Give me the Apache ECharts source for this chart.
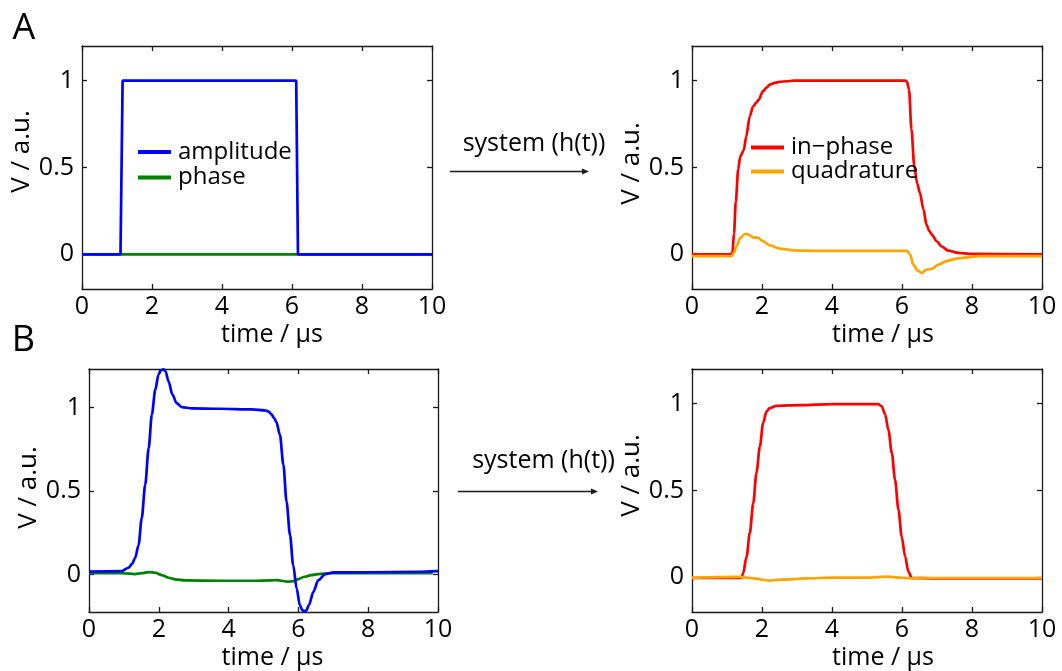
<!DOCTYPE html>
<html>
<head>
<meta charset="utf-8">
<script src="https://cdn.jsdelivr.net/npm/echarts@6/dist/echarts.min.js"></script>
<style>
  html, body { margin: 0; padding: 0; background: #fff; }
  #chart { width: 1062px; height: 671px; }
</style>
</head>
<body>
<div id="chart"></div>
<script>
// ---- Panel A, left: ideal rectangular drive pulse ----
const ampA_t   = [0, 1.10, 1.16, 6.12, 6.17, 10];
const ampA_v   = [0, 0, 1, 1, 0, 0];
const phaseA_t = [0, 10];
const phaseA_v = [0, 0];

// ---- Panel A, right: system response to the rectangular pulse ----
const inA_t = [0, 1.12, 1.155, 1.20, 1.25, 1.32, 1.38, 1.48, 1.55, 1.65, 1.74, 1.84, 1.90, 2.03, 2.13, 2.22, 2.35, 2.51, 2.70, 2.90, 3.10,
               6.10, 6.14, 6.20, 6.27, 6.35, 6.43, 6.51, 6.61, 6.70, 6.78, 6.85, 6.99, 7.13, 7.32, 7.61, 7.99, 10];
const inA_v = [0, 0, 0.01, 0.12, 0.30, 0.49, 0.565, 0.60, 0.68, 0.795, 0.85, 0.875, 0.89, 0.94, 0.96, 0.977, 0.987, 0.994, 0.997, 1.0, 1.0,
               1.0, 0.995, 0.95, 0.72, 0.51, 0.41, 0.355, 0.26, 0.17, 0.135, 0.113, 0.075, 0.046, 0.021, 0.008, 0.002, 0];
const quA_t = [0, 1.13, 1.20, 1.27, 1.38, 1.51, 1.60, 1.74, 1.89, 2.03, 2.22, 2.51, 2.89, 3.66, 6.14, 6.23, 6.32, 6.45, 6.56, 6.70, 6.85, 7.04, 7.32, 7.61, 7.99, 8.18, 10];
const quA_v = [-0.011, -0.011, 0.01, 0.046, 0.094, 0.117, 0.115, 0.098, 0.094, 0.075, 0.052, 0.033, 0.023, 0.02, 0.02, 0, -0.059, -0.094, -0.107, -0.088, -0.084, -0.059, -0.036, -0.023, -0.015, -0.011, -0.011];

// ---- Panel B, left: pre-shaped drive pulse ----
const ampB_t = [0, 0.94, 1.13, 1.23, 1.32, 1.42, 1.51, 1.61, 1.71, 1.80, 1.90, 1.99, 2.06, 2.13, 2.19, 2.28, 2.39, 2.51, 2.66, 2.95, 3.71, 4.66, 5.04,
                5.15, 5.23, 5.31, 5.37, 5.47, 5.57, 5.66, 5.76, 5.85, 5.95, 6.04, 6.11, 6.17, 6.23, 6.30, 6.43, 6.57, 6.77, 7.0, 8.0, 9.43, 10];
const ampB_v = [0.017, 0.02, 0.04, 0.062, 0.097, 0.176, 0.336, 0.536, 0.756, 0.956, 1.106, 1.196, 1.222, 1.228, 1.218, 1.156, 1.076, 1.026, 1.002, 0.994, 0.992, 0.988, 0.982,
                0.975, 0.958, 0.935, 0.912, 0.836, 0.656, 0.436, 0.236, 0.056, -0.084, -0.184, -0.214, -0.222, -0.215, -0.184, -0.104, -0.034, 0.002, 0.012, 0.013, 0.016, 0.02];
const phaseB_t = [0, 0.94, 1.32, 1.51, 1.71, 1.90, 2.09, 2.28, 2.47, 2.76, 3.71, 4.66, 5.23, 5.37, 5.52, 5.71, 5.85, 6.0, 6.18, 6.37, 6.57, 6.95, 9.85];
const phaseB_v = [0.007, 0.007, 0.002, 0.007, 0.014, 0.01, -0.004, -0.02, -0.03, -0.036, -0.038, -0.038, -0.036, -0.034, -0.038, -0.044, -0.040, -0.028, -0.014, -0.004, 0.002, 0.007, 0.007];

// ---- Panel B, right: system response to the pre-shaped pulse ----
const inB_t = [0, 1.41, 1.46, 1.56, 1.65, 1.75, 1.84, 1.94, 2.03, 2.13, 2.22, 2.41, 3.08, 4.04, 4.99, 5.32, 5.42, 5.52, 5.61, 5.71, 5.80, 5.90, 5.99, 6.09, 6.18, 6.28, 6.9, 10];
const inB_v = [-0.004, -0.004, 0.023, 0.119, 0.254, 0.427, 0.60, 0.754, 0.888, 0.956, 0.975, 0.988, 0.992, 0.998, 0.998, 0.998, 0.985, 0.937, 0.85, 0.715, 0.562, 0.388, 0.235, 0.119, 0.033, -0.004, -0.006, -0.006];
const quB_t = [0, 1.36, 1.56, 1.84, 2.03, 2.22, 2.41, 2.70, 3.27, 4.04, 4.99, 5.56, 5.94, 6.28, 6.9, 10];
const quB_v = [-0.002, 0.002, -0.002, -0.008, -0.015, -0.019, -0.015, -0.012, -0.006, -0.002, -0.002, 0.004, -0.002, -0.006, -0.004, -0.004];

// ---- Axis ticks and text ----
const yTicks = [0, 0.5, 1];
const xTickStep = 2;
const xLabel = 'time / \u03bcs';
const yLabel = 'V / a.u.';
const legendA = ['amplitude', 'phase'];
const legendB = ['in\u2212phase', 'quadrature'];
const panelLetters = ['A', 'B'];
const arrowText = 'system (h(t))';

const FONT = "'Open Sans', 'Noto Sans', sans-serif";
const AX = '#1a1a1a';

const pairs = (t, v) => t.map((x, i) => [x, v[i]]);

const grids = [
  { left: 82,  top: 46,  width: 350, height: 243 },
  { left: 692, top: 46,  width: 350, height: 243 },
  { left: 89,  top: 369, width: 349, height: 243 },
  { left: 692, top: 369, width: 350, height: 243 }
];
const yRanges = [[-0.2, 1.2], [-0.2, 1.2], [-0.225, 1.23], [-0.2, 1.2]];
const xNameShift = [30, 32, 18, 32];
const yNameShift = [32, 8, 6, 30];

const xAxes = [], yAxes = [];
grids.forEach((g, i) => {
  const line = { show: true, onZero: false, lineStyle: { color: AX, width: 1.3 } };
  const tick = { show: true, inside: true, length: 5, lineStyle: { color: AX, width: 1.3 } };
  xAxes.push({
    gridIndex: i, type: 'value', min: 0, max: 10, interval: xTickStep, position: 'bottom',
    axisLine: line, axisTick: tick, splitLine: { show: false },
    axisLabel: { margin: 5, fontSize: 25, fontFamily: FONT, color: '#000', showMaxLabel: true, showMinLabel: true },
    name: xLabel, nameLocation: 'middle', nameGap: 33,
    nameTextStyle: { fontSize: 25, fontFamily: FONT, color: '#000', padding: [0, 0, 0, xNameShift[i]] }
  });
  xAxes.push({
    gridIndex: i, type: 'value', min: 0, max: 10, interval: xTickStep, position: 'top',
    axisLine: line, axisTick: tick, splitLine: { show: false }, axisLabel: { show: false }
  });
  yAxes.push({
    gridIndex: i, type: 'value', min: yRanges[i][0], max: yRanges[i][1], position: 'left',
    axisLine: line, axisTick: Object.assign({ customValues: yTicks }, tick), splitLine: { show: false },
    axisLabel: { customValues: yTicks, margin: 8, fontSize: 25, fontFamily: FONT, color: '#000' },
    name: yLabel, nameLocation: 'middle', nameRotate: 90, nameGap: 44,
    nameTextStyle: { fontSize: 26, fontFamily: FONT, color: '#000', padding: [0, 0, 0, yNameShift[i]] }
  });
  yAxes.push({
    gridIndex: i, type: 'value', min: yRanges[i][0], max: yRanges[i][1], position: 'right',
    axisLine: line, axisTick: Object.assign({ customValues: yTicks }, tick), splitLine: { show: false },
    axisLabel: { show: false }
  });
});

function lineSeries(name, panel, t, v, color, smooth) {
  return {
    name, type: 'line', xAxisIndex: panel * 2, yAxisIndex: panel * 2,
    data: pairs(t, v), showSymbol: false, symbol: 'none', color,
    smooth: smooth ? 0.3 : false, smoothMonotone: 'x',
    lineStyle: { color, width: 2.7 }, itemStyle: { color }
  };
}

const BLUE = '#0000ff', GREEN = '#008000', RED = '#ff0000', ORANGE = '#ffa500';

const series = [
  lineSeries(legendA[1], 0, phaseA_t, phaseA_v, GREEN, false),
  lineSeries(legendA[0], 0, ampA_t, ampA_v, BLUE, false),
  lineSeries(legendB[0], 1, inA_t, inA_v, RED, true),
  lineSeries(legendB[1], 1, quA_t, quA_v, ORANGE, true),
  lineSeries('phase B', 2, phaseB_t, phaseB_v, GREEN, true),
  lineSeries('amplitude B', 2, ampB_t, ampB_v, BLUE, true),
  lineSeries('in-phase B', 3, inB_t, inB_v, RED, true),
  lineSeries('quadrature B', 3, quB_t, quB_v, ORANGE, true)
];

const legendCommon = {
  orient: 'vertical', icon: 'rect', itemWidth: 33, itemHeight: 4, padding: 0,
  selectedMode: false,
  textStyle: { fontSize: 24, fontFamily: FONT, color: '#000', lineHeight: 24, padding: [0, 0, 0, 2] }
};

function arrow(x1, x2, y) {
  return [
    { type: 'line', shape: { x1, y1: y, x2: x2 - 5, y2: y }, style: { stroke: AX, lineWidth: 1.5 } },
    { type: 'polygon', shape: { points: [[x2 - 7, y - 3], [x2, y], [x2 - 7, y + 3]] }, style: { fill: AX } }
  ];
}

const chart = echarts.init(document.getElementById('chart'), null, { renderer: 'canvas' });
chart.setOption({
  animation: false,
  backgroundColor: '#fff',
  grid: grids,
  xAxis: xAxes,
  yAxis: yAxes,
  legend: [
    Object.assign({ data: legendA, left: 138, top: 140, itemGap: 1.5 }, legendCommon),
    Object.assign({ data: legendB, left: 751, top: 135.5, itemGap: 0 }, legendCommon)
  ],
  series,
  graphic: [
    { type: 'text', x: 24, y: 28.5, style: { text: panelLetters[0], font: '36px ' + FONT, fill: '#000', align: 'center', verticalAlign: 'middle' } },
    { type: 'text', x: 23.5, y: 341, style: { text: panelLetters[1], font: '36px ' + FONT, fill: '#000', align: 'center', verticalAlign: 'middle' } },
    { type: 'text', x: 534, y: 144, style: { text: arrowText, font: '25px ' + FONT, fill: '#000', align: 'center', verticalAlign: 'middle' } },
    { type: 'text', x: 543.5, y: 461, style: { text: arrowText, font: '25px ' + FONT, fill: '#000', align: 'center', verticalAlign: 'middle' } },
    ...arrow(450, 589, 171.5),
    ...arrow(458, 598, 491.5)
  ]
});
</script>
</body>
</html>
